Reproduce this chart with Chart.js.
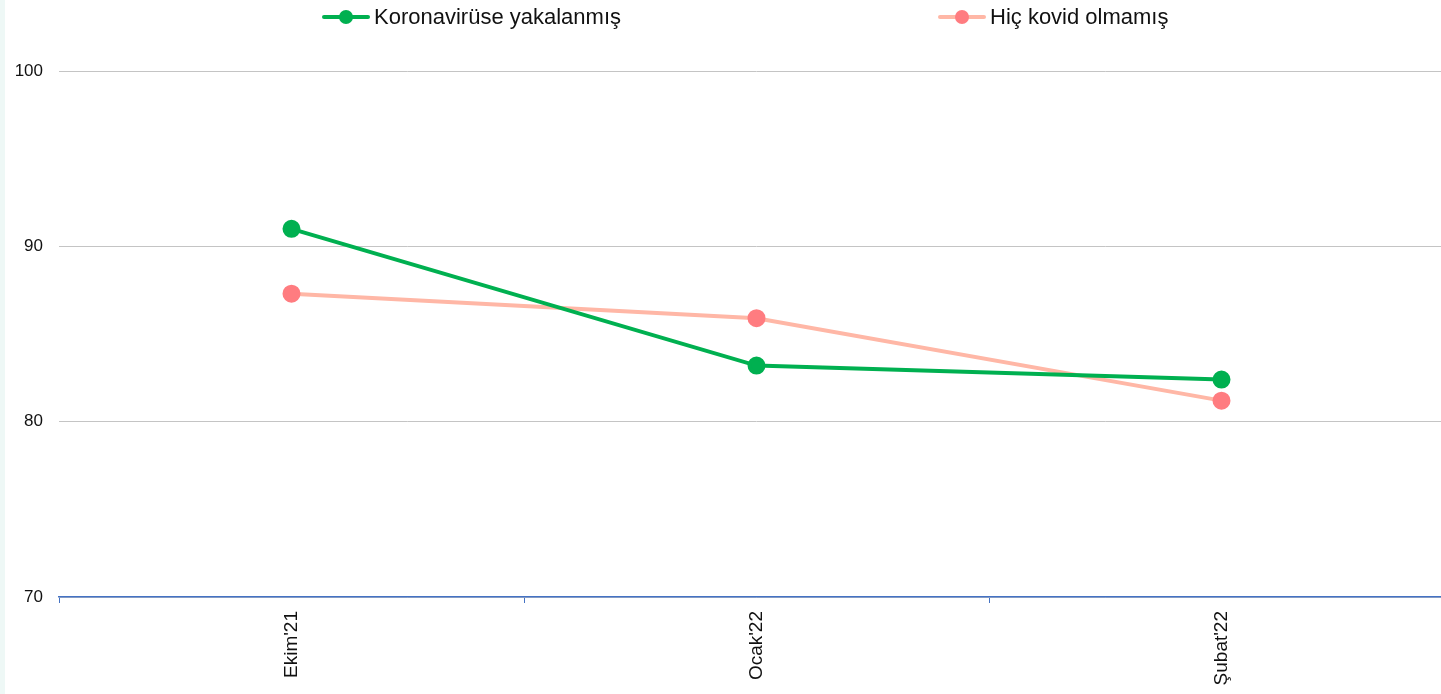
<!DOCTYPE html>
<html>
<head>
<meta charset="utf-8">
<script src="https://cdn.jsdelivr.net/npm/chart.js@4"></script>
<style>
    html, body { margin: 0; padding: 0; background: #fff; overflow: hidden; }
    body { width: 1441px; height: 694px; position: relative; font-family: "Liberation Sans", Arial, sans-serif; }
    .strip { position: absolute; left: 0; top: 0; width: 5px; height: 694px; background: #eef8f6; }
    #chartWrap { position: absolute; left: 0; top: 0; width: 1465px; height: 694px; }
    .legend { position: absolute; top: 4px; height: 24px; font-size: 22px; color: #111; white-space: nowrap; }
    .legend .mark { position: relative; width: 48px; height: 24px; margin-right: 4px; }
    .legend .mark .ln { position: absolute; left: 0; right: 0; top: 10px; height: 4px; border-radius: 2px; }
    .legend .mark .dot { position: absolute; left: 17px; top: 5px; width: 14px; height: 14px; border-radius: 50%; }
</style>
</head>
<body>
<div class="strip"></div>
<div id="chartWrap"><canvas id="lineChart" width="1465" height="694"></canvas></div>
<div class="legend" id="legend"></div>

<script>
// Categories and values
const months = ["Ekim'21", "Ocak'22", "Şubat'22"];
const covidHad = [91.0, 83.2, 82.4];
const covidNever = [87.3, 85.9, 81.2];
const yTicks = [70, 80, 90, 100];

const seriesNames = ['Koronavirüse yakalanmış', 'Hiç kovid olmamış'];
const lineColors = ['#00b050', '#ffb7a6'];
const pointColors = ['#00b050', '#ff7c80'];
const legendLeft = [322, 938];

function buildLegend() {
    const legend = document.getElementById('legend');
    legend.style.left = '0px';
    legend.style.width = '1441px';
    seriesNames.forEach((name, i) => {
        const item = document.createElement('div');
        item.style.position = 'absolute';
        item.style.left = legendLeft[i] + 'px';
        item.style.display = 'flex';
        item.style.alignItems = 'center';
        item.innerHTML = `<div class="mark"><div class="ln" style="background:${lineColors[i]}"></div>` +
            `<div class="dot" style="background:${pointColors[i]}"></div></div><span>${name}</span>`;
        legend.appendChild(item);
    });
}

function initChart() {
    const ctx = document.getElementById('lineChart').getContext('2d');
    new Chart(ctx, {
        type: 'line',
        data: {
            labels: months,
            datasets: [
                {
                    label: seriesNames[0],
                    data: covidHad,
                    borderColor: lineColors[0],
                    backgroundColor: pointColors[0],
                    pointBackgroundColor: pointColors[0],
                    pointBorderColor: pointColors[0],
                    borderWidth: 4,
                    pointRadius: 7,
                    tension: 0
                },
                {
                    label: seriesNames[1],
                    data: covidNever,
                    borderColor: lineColors[1],
                    backgroundColor: pointColors[1],
                    pointBackgroundColor: pointColors[1],
                    pointBorderColor: pointColors[1],
                    borderWidth: 4,
                    pointRadius: 7,
                    tension: 0
                }
            ]
        },
        options: {
            responsive: false,
            animation: false,
            layout: { padding: { top: 71, right: 0, bottom: 0, left: 0 } },
            plugins: {
                legend: { display: false },
                tooltip: { enabled: false }
            },
            scales: {
                x: {
                    offset: true,
                    grid: {
                        offset: true,
                        drawOnChartArea: false,
                        drawTicks: true,
                        tickLength: 6,
                        color: '#4472c4'
                    },
                    border: { display: true, color: '#4472c4', width: 1.5 },
                    ticks: {
                        color: '#111',
                        font: { family: '"Liberation Sans", Arial, sans-serif', size: 19 },
                        minRotation: 90,
                        maxRotation: 90,
                        padding: 8
                    },
                    afterFit: (scale) => { scale.height = 97; }
                },
                y: {
                    min: 70,
                    max: 100,
                    afterBuildTicks: (scale) => { scale.ticks = yTicks.map(v => ({ value: v })); },
                    grid: { color: '#c4c4c4', drawTicks: false, lineWidth: 1 },
                    border: { display: false },
                    ticks: {
                        color: '#111',
                        font: { family: '"Liberation Sans", Arial, sans-serif', size: 17 },
                        padding: 16
                    },
                    afterFit: (scale) => { scale.width = 59; }
                }
            }
        }
    });
}

buildLegend();
initChart();
</script>
</body>
</html>
